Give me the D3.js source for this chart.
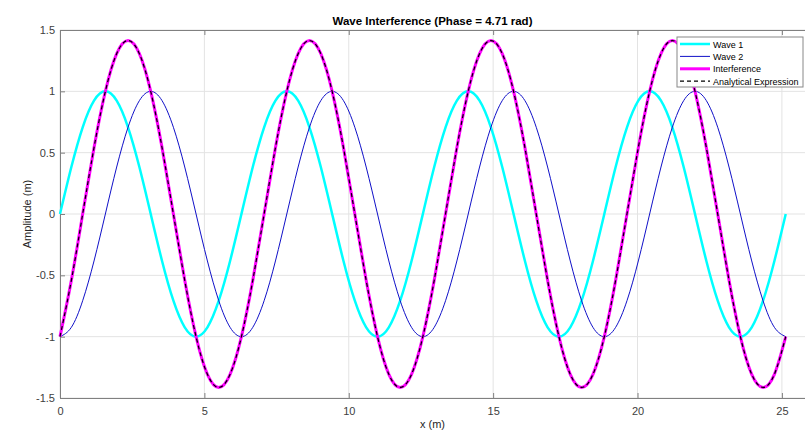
<!DOCTYPE html>
<html>
<head>
<meta charset="utf-8">
<script src="https://cdn.jsdelivr.net/npm/d3@7"></script>
<style>
  body { margin: 0; background: #fff; }
  text { font-family: Arial, "Liberation Sans", sans-serif; }
</style>
</head>
<body>
<div id="chart"></div>
<script>
// sample positions (x in m, step pi/8)
var xs = [0, 0.393, 0.785, 1.178, 1.571, 1.963, 2.356, 2.749, 3.142, 3.534, 3.927, 4.320, 4.712, 5.105, 5.498, 5.890,
  6.283, 6.676, 7.069, 7.461, 7.854, 8.247, 8.639, 9.032, 9.425, 9.817, 10.210, 10.603, 10.996, 11.388, 11.781, 12.174,
  12.566, 12.959, 13.352, 13.744, 14.137, 14.530, 14.923, 15.315, 15.708, 16.101, 16.493, 16.886, 17.279, 17.671, 18.064, 18.457,
  18.850, 19.242, 19.635, 20.028, 20.420, 20.813, 21.206, 21.598, 21.991, 22.384, 22.777, 23.169, 23.562, 23.955, 24.347, 24.740,
  25.133];

var wave1 = [0, 0.383, 0.707, 0.924, 1, 0.924, 0.707, 0.383, 0, -0.383, -0.707, -0.924, -1, -0.924, -0.707, -0.383,
  0, 0.383, 0.707, 0.924, 1, 0.924, 0.707, 0.383, 0, -0.383, -0.707, -0.924, -1, -0.924, -0.707, -0.383,
  0, 0.383, 0.707, 0.924, 1, 0.924, 0.707, 0.383, 0, -0.383, -0.707, -0.924, -1, -0.924, -0.707, -0.383,
  0, 0.383, 0.707, 0.924, 1, 0.924, 0.707, 0.383, 0, -0.383, -0.707, -0.924, -1, -0.924, -0.707, -0.383,
  0];

var wave2 = [-1, -0.924, -0.707, -0.383, 0, 0.383, 0.707, 0.924, 1, 0.924, 0.707, 0.383, 0, -0.383, -0.707, -0.924,
  -1, -0.924, -0.707, -0.383, 0, 0.383, 0.707, 0.924, 1, 0.924, 0.707, 0.383, 0, -0.383, -0.707, -0.924,
  -1, -0.924, -0.707, -0.383, 0, 0.383, 0.707, 0.924, 1, 0.924, 0.707, 0.383, 0, -0.383, -0.707, -0.924,
  -1, -0.924, -0.707, -0.383, 0, 0.383, 0.707, 0.924, 1, 0.924, 0.707, 0.383, 0, -0.383, -0.707, -0.924,
  -1];

var interference = [-1, -0.541, 0, 0.541, 1, 1.307, 1.414, 1.307, 1, 0.541, 0, -0.541, -1, -1.307, -1.414, -1.307,
  -1, -0.541, 0, 0.541, 1, 1.307, 1.414, 1.307, 1, 0.541, 0, -0.541, -1, -1.307, -1.414, -1.307,
  -1, -0.541, 0, 0.541, 1, 1.307, 1.414, 1.307, 1, 0.541, 0, -0.541, -1, -1.307, -1.414, -1.307,
  -1, -0.541, 0, 0.541, 1, 1.307, 1.414, 1.307, 1, 0.541, 0, -0.541, -1, -1.307, -1.414, -1.307,
  -1];

var analytical = interference.slice();

var xTicks = [0, 5, 10, 15, 20, 25];
var yTicks = [-1.5, -1, -0.5, 0, 0.5, 1, 1.5];
var seriesNames = ["Wave 1", "Wave 2", "Interference", "Analytical Expression"];

var W = 805, H = 432;
var margin = {left: 60, top: 30, right: 0, bottom: 34};

var svg = d3.select("#chart").append("svg").attr("width", W).attr("height", H);

var x = d3.scaleLinear().domain([0, 25.8]).range([margin.left, W - margin.right]);
var y = d3.scaleLinear().domain([-1.5, 1.5]).range([H - margin.bottom, margin.top]);

// grid
svg.append("g").selectAll("line").data(xTicks).join("line")
  .attr("x1", d => x(d)).attr("x2", d => x(d))
  .attr("y1", y(-1.5)).attr("y2", y(1.5))
  .attr("stroke", "#e3e3e3").attr("stroke-width", 1);
svg.append("g").selectAll("line").data(yTicks).join("line")
  .attr("x1", x(0)).attr("x2", W)
  .attr("y1", d => y(d)).attr("y2", d => y(d))
  .attr("stroke", "#e3e3e3").attr("stroke-width", 1);

// axes (ticks inward like matlab), plain hyphen minus
var fmt = d => String(d);
var xAxis = svg.append("g").attr("transform", "translate(0," + y(-1.5) + ")")
  .call(d3.axisBottom(x).tickValues(xTicks).tickSizeInner(-5).tickSizeOuter(0).tickPadding(9).tickFormat(fmt));
var xTop = svg.append("g").attr("transform", "translate(0," + y(1.5) + ")")
  .call(d3.axisTop(x).tickValues(xTicks).tickSizeInner(-5).tickSizeOuter(0).tickFormat(""));
var yAxis = svg.append("g").attr("transform", "translate(" + x(0) + ",0)")
  .call(d3.axisLeft(y).tickValues(yTicks).tickSizeInner(-5).tickSizeOuter(0).tickPadding(5).tickFormat(fmt));
[xAxis, xTop, yAxis].forEach(function(g) {
  g.select(".domain").attr("stroke", "#808080");
  g.selectAll(".tick line").attr("stroke", "#808080");
  g.selectAll("text").attr("fill", "#404040").style("font-size", "11px");
});

// series
var line = function(vals) {
  return d3.line().x((d, i) => x(xs[i])).y(d => y(d)).curve(d3.curveNatural)(vals);
};

svg.append("path").attr("d", line(wave1)).attr("fill", "none")
  .attr("stroke", "#00ffff").attr("stroke-width", 2.5);
svg.append("path").attr("d", line(wave2)).attr("fill", "none")
  .attr("stroke", "#1010c8").attr("stroke-width", 1);
svg.append("path").attr("d", line(interference)).attr("fill", "none")
  .attr("stroke", "#ff00ff").attr("stroke-width", 3);
svg.append("path").attr("d", line(analytical)).attr("fill", "none")
  .attr("stroke", "#000").attr("stroke-width", 1.2).attr("stroke-dasharray", "4,3");

// title and labels
svg.append("text").attr("x", (margin.left + W) / 2).attr("y", 25)
  .attr("text-anchor", "middle").style("font-size", "11.5px").style("font-weight", "bold")
  .attr("fill", "#000").text("Wave Interference (Phase = 4.71 rad)");
svg.append("text").attr("x", (margin.left + W) / 2).attr("y", 428)
  .attr("text-anchor", "middle").style("font-size", "11px").attr("fill", "#262626").text("x (m)");
svg.append("text").attr("transform", "translate(31," + y(0) + ") rotate(-90)")
  .attr("text-anchor", "middle").style("font-size", "11px").attr("fill", "#262626").text("Amplitude (m)");

// legend
var styles = [
  {color: "#00ffff", w: 2.5, dash: null},
  {color: "#1010c8", w: 1, dash: null},
  {color: "#ff00ff", w: 3, dash: null},
  {color: "#000", w: 1.2, dash: "4,3"}
];
var lg = svg.append("g").attr("transform", "translate(677,37)");
lg.append("rect").attr("width", 126).attr("height", 50)
  .attr("fill", "#fff").attr("stroke", "#888").attr("stroke-width", 1);
var rows = lg.selectAll("g.row").data(seriesNames).join("g")
  .attr("transform", (d, i) => "translate(0," + (7 + i * 12.4) + ")");
rows.append("line").attr("x1", 3).attr("x2", 33)
  .attr("stroke", (d, i) => styles[i].color)
  .attr("stroke-width", (d, i) => styles[i].w)
  .attr("stroke-dasharray", (d, i) => styles[i].dash);
rows.append("text").attr("x", 36).attr("y", 3.5).style("font-size", "9px")
  .attr("fill", "#000").text(d => d);
</script>
</body>
</html>
